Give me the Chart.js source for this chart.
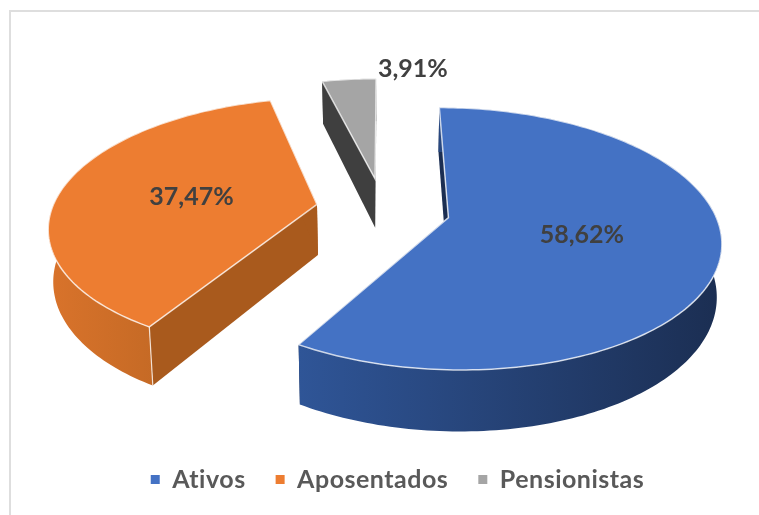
<!DOCTYPE html>
<html>
<head>
<meta charset="utf-8">
<script src="https://cdn.jsdelivr.net/npm/chart.js@4"></script>
<style>
  body { margin: 0; background: #fff; }
  #wrap { position: relative; width: 759px; height: 515px; overflow: hidden; }
  #frame { position: absolute; left: 9px; top: 10px; width: 760px; height: 520px;
           border-top: 2px solid #dedede; border-left: 2px solid #dedede; }
  canvas { position: absolute; left: 0; top: 0; filter: blur(0.4px); }
</style>
</head>
<body>
<div id="wrap">
  <div id="frame"></div>
  <canvas id="chart" width="759" height="515"></canvas>
</div>
<script>
const categories = ['Ativos', 'Aposentados', 'Pensionistas'];
const shares = [58.62, 37.47, 3.91];
const shareLabels = ['58,62%', '37,47%', '3,91%'];
const sliceColors = ['#4472c4', '#ed7d31', '#a5a5a5'];

// side wall colours, left to right
const wallColors = [['#2f5597', '#1b2e52'], ['#d9732b', '#b0601f'], ['#3f3f3f', '#3f3f3f']];
const radialWallColors = ['#1b2e52', '#a95a1d', '#3f3f3f'];
// only the orange slice shows the light line down its front corner
const cornerLines = [false, true, false];

// the tilted view of the pie
const view = { cx: 383, cy: 209, rx: 265, ry: 125, k: 0.16, depth: 51 };
// data label placement: distance along the slice middle, then a nudge in px
const labelRadius = [0.5, 0.49, 1.1];
const labelNudge = [[0, 0], [0, 1], [66, -2]];

function project(u, v) {
  const s = 1 / (1 - view.k * v);
  return { x: view.cx + view.rx * u * s, y: view.cy + view.ry * v * s, s };
}

function lower(p) {
  return { x: view.cx + (p.x - view.cx) * 0.985, y: p.y + view.depth * p.s };
}

function pathOf(ctx, pts) {
  ctx.beginPath();
  pts.forEach((p, i) => { if (i) ctx.lineTo(p.x, p.y); else ctx.moveTo(p.x, p.y); });
  ctx.closePath();
}

function sliceShape(arc) {
  const R = arc.outerRadius;
  const mid = (arc.startAngle + arc.endAngle) / 2;
  const shift = arc.options.offset / 4 / R;
  const ou = Math.cos(mid) * shift;
  const ov = Math.sin(mid) * shift;
  const rim = [];
  const steps = Math.ceil((arc.endAngle - arc.startAngle) / 0.02);
  for (let i = 0; i <= steps; i++) {
    const a = arc.startAngle + (arc.endAngle - arc.startAngle) * i / steps;
    rim.push(project(ou + Math.cos(a), ov + Math.sin(a)));
  }
  return { rim, apex: project(ou, ov), ou, ov, mid };
}

const pie3d = {
  id: 'pie3d',
  // the legend text is a little spaced out, set before it gets measured
  beforeUpdate(chart) {
    chart.ctx.letterSpacing = '0.5px';
  },
  beforeDatasetsDraw(chart) {
    const ctx = chart.ctx;
    const arcs = chart.getDatasetMeta(0).data;
    const order = [2, 1, 0];
    order.forEach(i => {
      const { rim, apex } = sliceShape(arcs[i]);
      const first = rim[0], last = rim[rim.length - 1];

      // flat walls from the centre out to the rim
      ctx.fillStyle = radialWallColors[i];
      [first, last].forEach(p => {
        pathOf(ctx, [apex, p, lower(p), lower(apex)]);
        ctx.fill();
      });

      // curved wall
      const xs = rim.map(p => p.x);
      const grad = ctx.createLinearGradient(Math.min(...xs), 0, Math.max(...xs), 0);
      grad.addColorStop(0, wallColors[i][0]);
      grad.addColorStop(1, wallColors[i][1]);
      pathOf(ctx, rim.concat(rim.map(lower).reverse()));
      ctx.fillStyle = grad;
      ctx.fill();

      if (cornerLines[i]) {
        const low = lower(first);
        ctx.beginPath();
        ctx.moveTo(first.x, first.y);
        ctx.lineTo(low.x, low.y);
        ctx.strokeStyle = 'rgba(255,255,255,0.75)';
        ctx.lineWidth = 1.2;
        ctx.stroke();
      }

      // top face
      pathOf(ctx, [apex].concat(rim));
      ctx.fillStyle = sliceColors[i];
      ctx.fill();
      ctx.strokeStyle = 'rgba(255,255,255,0.75)';
      ctx.lineWidth = 1.5;
      ctx.stroke();
    });

    // data labels
    ctx.save();
    ctx.letterSpacing = '0px';
    ctx.font = 'bold 25px Lato';
    ctx.fillStyle = '#404040';
    ctx.textAlign = 'center';
    ctx.textBaseline = 'middle';
    arcs.forEach((arc, i) => {
      const { ou, ov, mid } = sliceShape(arc);
      const p = project(ou + Math.cos(mid) * labelRadius[i], ov + Math.sin(mid) * labelRadius[i]);
      ctx.fillText(shareLabels[i], p.x + labelNudge[i][0], p.y + labelNudge[i][1]);
    });
    ctx.restore();
    return false;
  }
};

new Chart(document.getElementById('chart'), {
  type: 'pie',
  data: {
    labels: categories,
    datasets: [{
      data: shares,
      backgroundColor: sliceColors,
      borderWidth: 0,
      offset: 147
    }]
  },
  options: {
    responsive: false,
    animation: false,
    layout: { padding: { left: 36, bottom: 13 } },
    plugins: {
      tooltip: { enabled: false },
      legend: {
        position: 'bottom',
        labels: {
          usePointStyle: true,
          pointStyle: 'rect',
          boxWidth: 9,
          boxHeight: 9,
          padding: 30,
          color: '#595959',
          font: { family: 'Lato', size: 25, weight: 'bold' }
        }
      }
    }
  },
  plugins: [pie3d]
});
</script>
</body>
</html>
